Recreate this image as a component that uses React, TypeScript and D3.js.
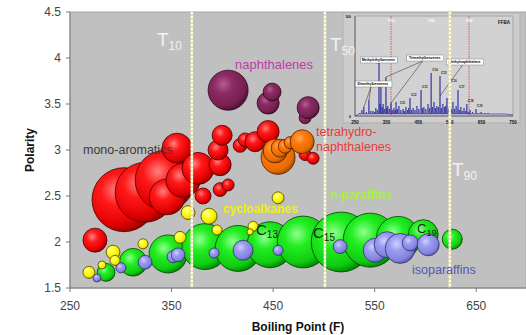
import React from "react";
import * as d3 from "d3";

// [boiling point (F), polarity, relative abundance]
const monoAromatics = [
  [274.6, 2.02, 9], [303.2, 2.46, 64], [323.9, 2.54, 56], [343.6, 2.67, 56],
  [345.6, 2.49, 20], [355.4, 3.02, 14], [361.3, 2.67, 18], [376.1, 2.8, 16],
  [381, 2.5, 4], [397.8, 2.57, 3], [405.7, 2.62, 2.25], [397.8, 2.84, 7.6],
  [395.8, 3.0, 6.25], [399.8, 3.16, 6.25], [417.5, 3.05, 3], [422.4, 3.11, 3],
  [432.3, 3.09, 6.25], [445.1, 3.2, 7.6], [481.5, 2.95, 2.25], [489.4, 2.91, 2.25],
];
const naphthalenes = [
  [405.7, 3.65, 25], [445.1, 3.51, 7.6], [449, 3.63, 5], [481.5, 3.35, 2.25], [484.5, 3.46, 7.6],
];
const tetrahydroNaphthalenes = [
  [454.9, 2.92, 18], [452, 2.99, 9], [456.9, 3.02, 5], [461.8, 3.04, 3],
  [466.7, 3.08, 2.25], [478.6, 3.09, 9],
];
const nParaffins = [
  [285.5, 1.67, 5], [312.1, 1.78, 12], [346.6, 1.87, 22.6], [383, 1.95, 33],
  [415.5, 1.93, 33], [447, 1.97, 33], [479.6, 2.0, 42], [517, 2.0, 56],
  [545.6, 2.02, 45.6], [573.2, 2.04, 30], [597.8, 2.08, 14], [626.4, 2.03, 6.25],
];
const isoParaffins = [
  [276.6, 1.61, 1], [300.2, 1.72, 1.6], [323.9, 1.78, 3], [351.5, 1.84, 2.25],
  [356.4, 1.86, 3], [391.9, 1.88, 1.6], [420.4, 1.91, 6.25], [454.9, 1.91, 1.6],
  [516, 1.95, 3], [550.5, 1.91, 9], [562.3, 1.97, 10.6], [575.1, 1.93, 14],
  [585, 1.99, 4], [602.7, 1.97, 7.6],
];
const cycloalkanes = [
  [268.7, 1.67, 2.25], [281.5, 1.75, 1], [292.4, 1.89, 3], [294.3, 1.8, 1.6],
  [321.9, 1.98, 1.6], [358.4, 2.05, 2.25], [366.3, 2.32, 3], [386.9, 2.28, 4],
  [394.8, 2.13, 1.6], [430.3, 2.17, 1.6], [427.3, 2.11, 0.6], [454.9, 2.48, 2.25],
];

const xTicks = [250, 350, 450, 550, 650];
const yTicks = [1.5, 2, 2.5, 3, 3.5, 4, 4.5];
const cutPoints = [
  { label: "10", bp: 370 },
  { label: "50", bp: 501 },
  { label: "90", bp: 624 },
];

// inset chromatogram: [boiling point, signal]
const chromPeaks = [
  [265, 3], [272, 6], [278, 9], [286, 4], [294, 16], [300, 5], [307, 5], [312, 4], [316, 8],
  [321, 6], [326, 53], [329, 12], [332, 35], [336, 9], [339, 12], [343, 7], [348, 39],
  [351, 8], [354, 10], [359, 7], [364, 13], [368, 6], [373, 8], [377, 6], [380, 14],
  [384, 7], [389, 10], [395, 6], [402, 7], [406, 5], [411, 9], [416, 6], [420, 8],
  [424, 18], [429, 6], [434, 8], [440, 6], [446, 10], [452, 7], [459, 26], [463, 8],
  [468, 9], [474, 7], [481, 12], [486, 8], [491, 43], [495, 9], [500, 14], [505, 8],
  [509, 10], [514, 9], [519, 40], [523, 8], [528, 12], [533, 9], [537, 10], [541, 18],
  [546, 8], [551, 32], [555, 7], [560, 14], [565, 7], [570, 10], [576, 26], [580, 6],
  [585, 9], [590, 5], [595, 8], [600, 5], [604, 12], [609, 4], [614, 6], [622, 4],
  [633, 7], [641, 3], [649, 4], [660, 3], [671, 3], [693, 2], [725, 2],
];
const chromTicks = [250, 350, 450, 550, 650, 750];
const chromCarbons = [
  { label: "11", bp: 389, h: 10 }, { label: "12", bp: 424, h: 18 }, { label: "13", bp: 459, h: 26 },
  { label: "14", bp: 491, h: 43 }, { label: "15", bp: 519, h: 40 }, { label: "16", bp: 551, h: 32 },
  { label: "17", bp: 576, h: 26 }, { label: "18", bp: 604, h: 12 }, { label: "19", bp: 633, h: 7 },
];
const chromCuts = [364, 611];
const chromNotes = [
  { text: "Dimethylbenzenes", bp: 253, h: 32, to: [[278, 9], [294, 16]] },
  { text: "Methylethylbenzene", bp: 270, h: 56, to: [[326, 53]] },
  { text: "Trimethylbenzenes", bp: 417, h: 58, to: [[348, 39], [364, 13]] },
  { text: "Methylnaphthalene", bp: 543, h: 54, to: [[519, 20]] },
];

const series = [
  { name: "mono", data: monoAromatics, c: ["#ff8080", "#ff1a1a", "#e00000", "#9a0000"], stroke: "#4a0000" },
  { name: "naph", data: naphthalenes, c: ["#b0608f", "#8c2a64", "#76204f", "#4a1030"], stroke: "#2e0a1e" },
  { name: "tetra", data: tetrahydroNaphthalenes, c: ["#ffb060", "#ff7a10", "#e86a00", "#a84a00"], stroke: "#4a2000" },
  { name: "npar", data: nParaffins, c: ["#90ff90", "#22ee22", "#10cc10", "#008800"], stroke: "#004000" },
  { name: "ipar", data: isoParaffins, c: ["#d0d0ff", "#9c9cf2", "#8484e0", "#5a5ab0"], stroke: "#30306a" },
  { name: "cyclo", data: cycloalkanes, c: ["#ffffb0", "#ffff20", "#f0e800", "#b0a000"], stroke: "#504800" },
];

const W = 526;
const H = 335;
const font = "'Liberation Sans', Arial, sans-serif";

export default function App() {
  const x = d3.scaleLinear().domain([250, 700]).range([70, 527]);
  const y = d3.scaleLinear().domain([1.5, 4.5]).range([288, 12]);
  const r = d3.scaleSqrt().domain([0, 100]).range([0, 40]);

  const ix = d3.scaleLinear().domain([250, 750]).range([355, 513]);
  const iy = d3.scaleLinear().domain([0, 100]).range([116, 16]);
  const chromPoints: [number, number][] = [[250, 0]];
  chromPeaks.forEach(([bp, h]) => {
    chromPoints.push([bp - 1.1, 2], [bp, h], [bp + 1.1, 2]);
  });
  chromPoints.push([750, 1]);
  const chromLine = d3
    .line<[number, number]>()
    .x((d) => ix(d[0]))
    .y((d) => iy(d[1]));

  return (
    <svg width={W} height={H} style={{ position: "absolute", left: 0, top: 0, background: "#fff" }} fontFamily={font}>
      <defs>
        {series.map((s) => (
          <radialGradient key={s.name} id={"g-" + s.name} cx="38%" cy="35%" r="68%">
            <stop offset="0%" stopColor={s.c[0]} />
            <stop offset="35%" stopColor={s.c[1]} />
            <stop offset="80%" stopColor={s.c[2]} />
            <stop offset="100%" stopColor={s.c[3]} />
          </radialGradient>
        ))}
        <clipPath id="plot">
          <rect x={70} y={12} width={W - 70} height={276} />
        </clipPath>
      </defs>

      <rect x={70} y={12} width={W - 70} height={276} fill="#c0c0c0" stroke="#a8a8a8" />

      {/* inset chromatogram */}
      <g fontFamily={font}>
        <rect x={343} y={13} width={177} height={110} fill="#cdcdcd" stroke="#b0b0b0" />
        <rect x={355} y={16} width={158} height={100} fill="#d2d2d2" stroke="#8a8a8a" strokeWidth={0.6} />
        {chromCuts.map((c) => (
          <line key={c} x1={ix(c)} x2={ix(c)} y1={16} y2={116} stroke="#d04040" strokeWidth={0.8} strokeDasharray="1.5 1" />
        ))}
        {[364, 491, 611].map((c, i) => (
          <text key={c} x={ix(c)} y={22} fontSize={4} fill="#fff" textAnchor="middle" fontWeight="bold">
            {"T" + cutPoints[i].label}
          </text>
        ))}
        <path d={chromLine(chromPoints) || ""} fill="none" stroke="#1a1a9a" strokeWidth={0.6} />
        {chromCarbons.map((c) => (
          <text key={c.label} x={ix(c.bp) + 1} y={iy(c.h) - 2} fontSize={3.6} fill="#111" fontWeight="bold">
            C<tspan fontSize={2.6}>{c.label}</tspan>
          </text>
        ))}
        {chromNotes.map((n) => (
          <g key={n.text}>
            {n.to.map(([bp, h], i) => (
              <line key={i} x1={ix(n.bp) + 15} y1={iy(n.h) + 3} x2={ix(bp)} y2={iy(h)} stroke="#222" strokeWidth={0.5} />
            ))}
            <rect x={ix(n.bp) - 1} y={iy(n.h) - 3} width={37} height={6} fill="#fff" stroke="#666" strokeWidth={0.4} />
            <text x={ix(n.bp) + 17} y={iy(n.h) + 1.3} fontSize={3.5} fill="#000" fontWeight="bold" textAnchor="middle">
              {n.text}
            </text>
          </g>
        ))}
        <line x1={355} x2={355} y1={16} y2={116} stroke="#333" strokeWidth={0.6} />
        <line x1={355} x2={513} y1={116} y2={116} stroke="#333" strokeWidth={0.6} />
        {chromTicks.map((t) => (
          <text key={t} x={ix(t)} y={124} fontSize={4.5} fill="#111" fontWeight="bold" textAnchor="middle">
            {t}
          </text>
        ))}
        <text x={351} y={18} fontSize={3.5} fill="#111" textAnchor="end" fontWeight="bold">100</text>
        <text x={351} y={118} fontSize={3.5} fill="#111" textAnchor="end" fontWeight="bold">0</text>
        <text x={510} y={24} fontSize={4.5} fill="#111" textAnchor="end" fontWeight="bold">FFBA</text>
      </g>

      {/* bubbles */}
      <g clipPath="url(#plot)">
        {series.map((s) =>
          s.data.map((d, i) => (
            <circle
              key={s.name + i}
              cx={x(d[0])}
              cy={y(d[1])}
              r={r(d[2])}
              fill={`url(#g-${s.name})`}
              stroke={s.stroke}
              strokeWidth={0.8}
            />
          ))
        )}
      </g>

      {/* cut point lines */}
      {cutPoints.map((c) => (
        <g key={c.label}>
          <line x1={x(c.bp)} x2={x(c.bp)} y1={12} y2={288} stroke="#e8e2a8" strokeWidth={2.6} />
          <line x1={x(c.bp)} x2={x(c.bp)} y1={12} y2={288} stroke="#ffffff" strokeWidth={2} strokeDasharray="2 2" />
        </g>
      ))}
      {[{ l: "10", bx: 157, by: 50 }, { l: "50", bx: 330, by: 55 }, { l: "90", bx: 452, by: 180 }].map((t) => (
        <text key={t.l} x={t.bx} y={t.by - 4} fontSize={19} fill="#f2f2f2">
          T<tspan fontSize={12} dy={4}>{t.l}</tspan>
        </text>
      ))}

      {/* category labels */}
      <text x={235} y={69} fontSize={13} fill="#c23aa8">naphthalenes</text>
      <text x={83} y={154} fontSize={12.5} fill="#3a3a3a">mono-aromatics</text>
      <text x={316} y={136} fontSize={12.5} fill="#e83a3a">tetrahydro-</text>
      <text x={316} y={151} fontSize={12.5} fill="#e83a3a">naphthalenes</text>
      <text x={223} y={213} fontSize={12} fontWeight="bold" fill="#f2f200">cycloalkanes</text>
      <text x={330} y={199} fontSize={12} fontWeight="bold" fill="#a8f040">n-paraffins</text>
      <text x={412} y={274} fontSize={12.5} fill="#5656b0">isoparaffins</text>
      <text x={256} y={235} fontSize={15} fill="#1e1e1e">
        C<tspan fontSize={10} dy={3}>13</tspan>
      </text>
      <text x={313} y={238} fontSize={15} fill="#1e1e1e">
        C<tspan fontSize={10} dy={3}>15</tspan>
      </text>
      <text x={417} y={233} fontSize={13} fill="#1e1e1e">
        C<tspan fontSize={9} dy={3}>19</tspan>
      </text>

      {/* axes */}
      <line x1={70} x2={70} y1={12} y2={288} stroke="#7a7a7a" />
      <line x1={70} x2={W} y1={288} y2={288} stroke="#7a7a7a" />
      {yTicks.map((t) => (
        <g key={t}>
          <line x1={66} x2={70} y1={y(t)} y2={y(t)} stroke="#7a7a7a" />
          <text x={61} y={y(t) + 4} fontSize={12} fill="#444" textAnchor="end">
            {t}
          </text>
        </g>
      ))}
      {xTicks.map((t) => (
        <g key={t}>
          <line x1={x(t)} x2={x(t)} y1={288} y2={292} stroke="#7a7a7a" />
          <text x={x(t)} y={310} fontSize={12} fill="#444" textAnchor="middle">
            {t}
          </text>
        </g>
      ))}
      <text x={298} y={331} fontSize={12} fontWeight="bold" fill="#111" textAnchor="middle">
        Boiling Point (F)
      </text>
      <text transform="translate(34,150) rotate(-90)" fontSize={12} fontWeight="bold" fill="#111" textAnchor="middle">
        Polarity
      </text>
    </svg>
  );
}
